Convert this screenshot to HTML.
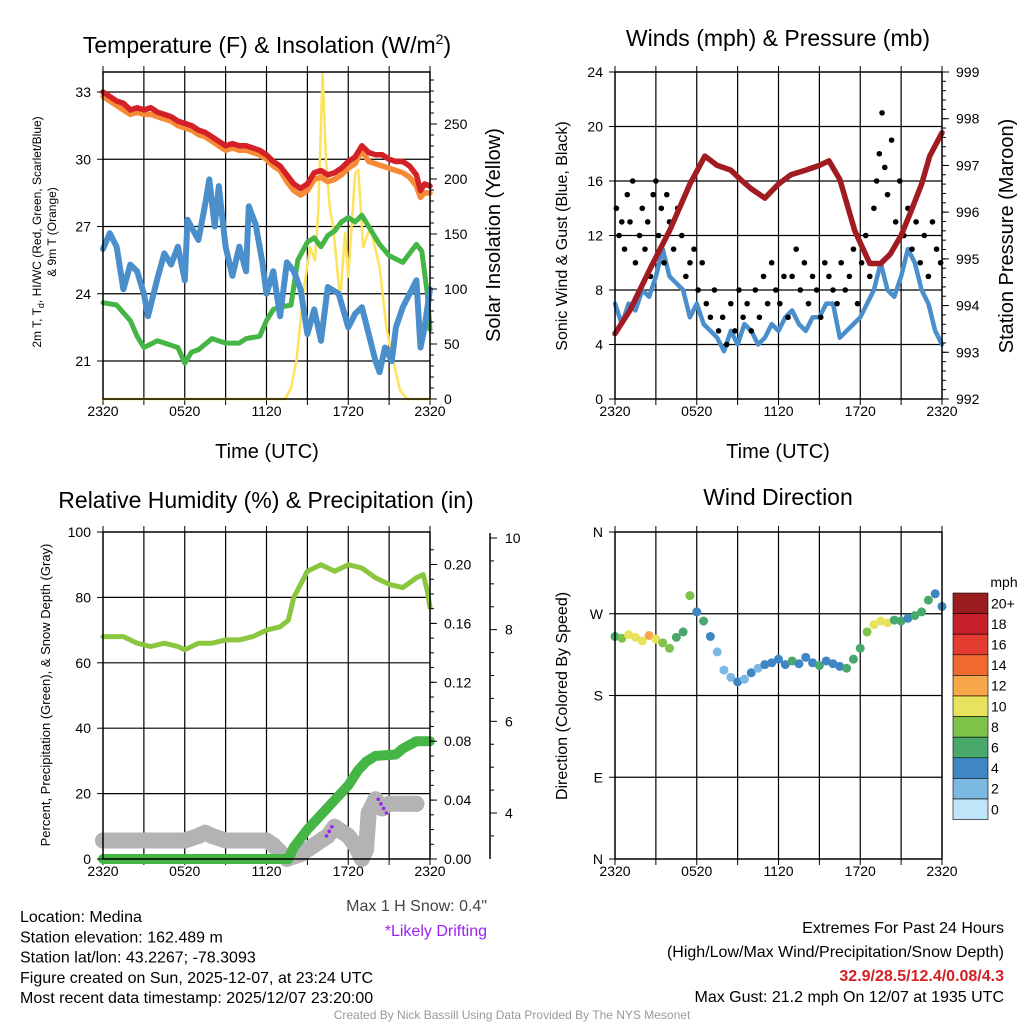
<!DOCTYPE html>
<html><head><meta charset="utf-8"><style>
body{margin:0;background:#fff}
svg{display:block;font-family:"Liberation Sans",Arial,sans-serif}
</style></head><body>
<svg id="s" width="1024" height="1024" viewBox="0 0 1024 1024">
<g id="g"></g>
</svg>
<script>
// ---------- data ----------
const timeTicks = ["2320","0520","1120","1720","2320"];
const redT = [0,0.5,1,1.5,2,2.5,3,3.5,4,4.5,5,5.5,6,6.5,7,7.5,8,8.5,9,9.5,10,10.5,11,11.5,12,12.5,13,13.5,14,14.5,15,15.5,16,16.5,17,17.5,18,18.5,19,19.5,20,20.5,21,21.5,22,22.5,23,23.3,23.6,24];
const redV = [33.0,32.8,32.6,32.5,32.2,32.3,32.2,32.3,32.1,32.0,31.9,31.7,31.6,31.5,31.3,31.2,31.0,30.8,30.6,30.7,30.6,30.6,30.5,30.4,30.2,29.9,29.7,29.3,28.9,28.7,28.9,29.4,29.5,29.3,29.4,29.6,29.9,30.1,30.6,30.3,30.2,30.2,30.0,29.9,29.9,29.7,29.3,28.6,28.9,28.8];
const orangeV = [32.8,32.6,32.4,32.2,32.0,32.1,32.0,32.0,31.9,31.8,31.7,31.5,31.4,31.3,31.1,31.0,30.8,30.6,30.4,30.5,30.4,30.4,30.3,30.2,30.0,29.7,29.5,29.0,28.6,28.4,28.6,29.1,29.2,29.0,29.1,29.3,29.6,29.8,30.4,29.9,29.8,29.7,29.6,29.5,29.4,29.2,28.8,28.3,28.5,28.5];
const greenT = [0,1,2,2.5,3,4,5,5.5,6,6.5,7,8,9,10,10.5,11.5,12,12.5,13,13.8,14.3,15,15.5,16,16.5,17,17.5,18,18.5,19,19.5,20,20.3,21,22,23,23.4,23.8,24];
const greenV = [23.6,23.5,22.8,22.1,21.6,21.9,21.7,21.6,20.9,21.4,21.5,22.0,21.8,21.8,22.0,22.1,22.8,23.3,23.4,23.5,25.5,26.3,26.5,26.1,26.6,26.8,27.2,27.4,27.2,27.5,27.0,26.5,26.2,25.7,25.4,26.2,25.9,24.0,22.4];
const blueT = [0,0.5,1,1.5,2,2.5,3,3.3,4,4.5,5,5.5,6,6.2,7,7.5,7.8,8.2,8.5,9,9.5,10,10.5,10.7,11.2,11.7,12,12.5,13,13.5,14,14.5,15,15.5,16,16.5,17.3,18,18.5,19,19.5,20,20.3,20.7,21.2,21.5,22,22.5,23,23.3,23.6,24];
const blueV = [26.0,26.7,26.1,24.2,25.3,25.0,24.0,23.0,24.7,25.8,25.3,26.1,24.6,27.3,26.4,28.0,29.1,27.0,28.8,26.1,24.8,26.1,25.0,27.9,27.1,25.4,24.0,25.0,23.0,25.4,25.0,24.2,22.2,23.3,21.9,24.3,24.0,22.5,23.1,23.4,22.2,21.0,20.5,21.6,21.0,22.5,23.4,24.0,24.6,21.6,22.5,24.2];
const solarT = [0,13.36,13.8,14.2,14.7,15.2,15.56,15.8,16.12,16.37,16.66,16.9,17.4,17.77,18.0,18.5,18.74,19.1,19.6,19.96,20.3,20.8,21.3,21.8,22.3,24];
const solarV = [0,0,10,35,96,138,126,172,296,217,172,156,90,151,111,205,208,138,156,138,120,65,35,8,0,0];
const presT = [0,1.1,2.6,4,5.5,6.6,7.5,8.5,9.2,10,11,12,12.9,14,15,15.7,16.5,17.6,18.7,19.5,20.2,21,21.7,22.5,23.1,24];
const presV = [993.4,993.9,994.8,995.6,996.6,997.2,997.0,996.9,996.7,996.5,996.3,996.6,996.8,996.9,997.0,997.1,996.7,995.6,994.9,994.9,995.1,995.5,996.0,996.6,997.2,997.7];
const windT = [0,0.5,1,1.5,2,2.5,3,3.5,4,4.5,5,5.5,6,6.5,7,7.5,8,8.5,9,9.5,10,10.5,11,11.5,12,12.5,13,13.5,14,14.5,15,15.5,16,16.5,17,17.5,18,18.5,19,19.5,20,20.5,21,21.5,22,22.5,23,23.5,24];
const windV = [7,5.5,7,6.5,8,7.5,9,11,9,8.5,8,6,7,5.5,5,4.5,3.5,5,4,5.5,5,4,4.5,5.5,5,6,6.5,5.5,5,6,6,7,7,4.5,5,5.5,6,7,8,10,8,7.5,9,11,10,8,7,5,4];
const gustT = [0.1,0.3,0.5,0.7,0.9,1.1,1.3,1.5,1.8,2.0,2.2,2.4,2.6,2.8,3.0,3.2,3.4,3.6,3.8,4.0,4.3,4.6,4.9,5.2,5.5,5.8,6.1,6.4,6.7,7.0,7.3,7.6,7.9,8.2,8.5,8.8,9.1,9.4,9.7,10.0,10.3,10.6,10.9,11.2,11.5,11.8,12.1,12.4,12.7,13.0,13.3,13.6,13.9,14.2,14.5,14.8,15.1,15.4,15.7,16.0,16.3,16.6,16.9,17.2,17.5,17.8,18.1,18.4,18.7,19.0,19.2,19.4,19.6,19.8,20.0,20.3,20.6,20.9,21.2,21.5,21.8,22.1,22.4,22.7,23.0,23.3,23.6,23.9];
const gustV = [14,12,13,11,15,13,16,10,12,14,11,13,9,15,16,12,14,10,15,13,11,14,12,9,10,11,8,10,7,6,8,5,6,4,7,5,8,6,7,5,8,6,9,7,10,8,7,9,6,9,11,8,10,7,9,8,6,10,9,8,7,10,8,9,11,7,10,12,9,14,16,18,21,17,15,19,13,16,12,14,11,13,10,12,9,13,11,10];
const rhT = [0,1.5,2.5,3.5,4.5,5.5,6,7,8,9,10,11,12,13,13.6,14,15,16,17,18,19,20,21,22,23,23.5,23.8,24];
const rhV = [68,68,66,65,66,65,64,66,66,67,67,68,70,71,73,80,88,90,88,90,89,86,84,83,86,87,82,77];
const precT = [0,13.6,14,15,16,17,18,18.7,19.3,20,21.5,22,23,24];
const precV = [0,0,0.008,0.02,0.03,0.04,0.05,0.06,0.066,0.07,0.071,0.075,0.08,0.08];
const snowT = [0,1,2,3,4,5,6,7,7.5,8,9,10,11,12,12.5,13.5,14.5,15.5,16,16.5,17,18,18.5,19,19.3,19.5,20,20.5,21,22,23];
const snowV = [3.4,3.4,3.4,3.4,3.4,3.4,3.4,3.5,3.57,3.5,3.4,3.4,3.4,3.4,3.3,3.0,3.1,3.3,3.4,3.5,3.7,3.5,3.3,3.0,3.2,4.0,4.3,4.1,4.2,4.2,4.2];
const driftT = [16.4,16.6,16.8,20.2,20.4,20.6,20.8];
const driftV = [3.5,3.6,3.7,4.3,4.2,4.1,4.0];
const dirT = [0,0.5,1,1.5,2,2.5,3,3.5,4,4.5,5,5.5,6,6.5,7,7.5,8,8.5,9,9.5,10,10.5,11,11.5,12,12.5,13,13.5,14,14.5,15,15.5,16,16.5,17,17.5,18,18.5,19,19.5,20,20.5,21,21.5,22,22.5,23,23.5,24];
const dirV = [245,243,247,244,240,246,242,238,232,244,250,290,272,262,245,228,208,200,195,198,205,210,214,216,220,214,218,215,222,216,213,218,215,212,210,220,232,250,258,262,260,263,262,265,268,272,285,292,278];
const dirS = [7,8,10,11,10,12,11,9,8,7,7,8,5,6,5,3,3,2,4,3,4,3,4,5,4,5,6,4,5,4,6,5,4,5,7,6,7,8,10,11,10,7,6,5,7,6,7,5,4];
const cbLabels = ["20+","18","16","14","12","10","8","6","4","2","0"];
const cbColors = ["#9b1c1f","#c8202a","#e23b2f","#f06a2e","#f8a84b","#e8e35c","#7ec24a","#49a86c","#3f86c5","#7bb8e2","#bfe5f8"];

// ---------- helpers ----------
const NS="http://www.w3.org/2000/svg";
const G=document.getElementById('g');
function el(tag,attrs,parent){const e=document.createElementNS(NS,tag);for(const k in attrs)e.setAttribute(k,attrs[k]);(parent||G).appendChild(e);return e;}
function txt(x,y,s,size,anchor,extra){const e=el('text',Object.assign({x:x,y:y,'font-size':size,'text-anchor':anchor||'middle',fill:'#000'},extra||{}));e.textContent=s;return e;}
function line(x1,y1,x2,y2,c,w){return el('line',{x1:x1,y1:y1,x2:x2,y2:y2,stroke:c||'#000','stroke-width':w||1});}
function lin(d0,d1,r0,r1){return v=>r0+(v-d0)*(r1-r0)/(d1-d0);}
function path(T,V,xs,ys,color,w,name){let d='';for(let i=0;i<T.length;i++)d+=(i?'L':'M')+xs(T[i]).toFixed(1)+','+ys(V[i]).toFixed(1);const p=el('path',{d:d,fill:'none',stroke:color,'stroke-width':w,'stroke-linejoin':'round','stroke-linecap':'round'});return p;}

function panelFrame(x0,y0,x1,y1,hgrid,name){
  const g=el('g',{});
  const xs=lin(0,24,x0,x1);
  for(let h=3;h<24;h+=3)line(xs(h),y0,xs(h),y1,'#000',1.2);
  hgrid.forEach(y=>line(x0,y,x1,y,'#000',1.2));
  for(let h=0;h<=24;h+=3){line(xs(h),y1,xs(h),y1+6);line(xs(h),y0,xs(h),y0-6);}
  for(let i=0;i<5;i++){const t=txt(xs(i*6),y1+17,timeTicks[i],14);}
  return xs;
}
function border(x0,y0,x1,y1){el('rect',{x:x0,y:y0,width:x1-x0,height:y1-y0,fill:'none',stroke:'#000','stroke-width':1.5});}
function leftAxis(x0,ys,vals,labels){vals.forEach((v,i)=>{const y=ys(v);line(x0-6,y,x0,y);const t=txt(x0-12,y+5,labels[i],14,'end');});}
function rightAxis(x1,ys,vals,labels,minor){vals.forEach((v,i)=>{const y=ys(v);line(x1,y,x1+7,y);const t=txt(x1+14,y+5,labels[i],14,'start');});(minor||[]).forEach(v=>{const y=ys(v);line(x1,y,x1+4,y);});}
function rotText(x,y,s,size,name){const t=txt(0,0,s,size,'middle',{transform:`translate(${x},${y}) rotate(-90)`});return t;}

// ---------- Panel 1 ----------
(function(){
 const x0=103,x1=430,y0=72,y1=399;
 const yT=lin(21,33,361,92), yS=lin(0,250,399,124);
 const xs=panelFrame(x0,y0,x1,y1,[21,24,27,30,33].map(yT),'temperature-panel');
 path(solarT,solarV,xs,yS,'#fde25a',2.5,'solar-insolation-line');
 path(greenT,greenV,xs,yT,'#45b546',5,'dewpoint-line');
 path(blueT,blueV,xs,yT,'#4a8fcb',6,'wind-chill-line');
 path(redT,orangeV,xs,yT,'#f78a36',5.5,'temp-9m-line');
 path(redT,redV,xs,yT,'#d42027',5.5,'temp-2m-line');
 border(x0,y0,x1,y1);
 leftAxis(x0,yT,[21,24,27,30,33],['21','24','27','30','33']);
 const mn=[];for(let v=0;v<=300;v+=10)if(v%50)mn.push(v);
 rightAxis(x1,yS,[0,50,100,150,200,250],['0','50','100','150','200','250'],mn.filter(v=>yS(v)>=y0));
 const t=txt(267,53,'',23);
 t.innerHTML='Temperature (F) &amp; Insolation (W/m<tspan dy="-9" font-size="14">2</tspan><tspan dy="9">)</tspan>';
 const xl=txt(267,458,'Time (UTC)',20);
 const a=txt(0,0,'',12,'middle',{transform:'translate(41,232) rotate(-90)'});
 a.innerHTML='2m T, T<tspan dy="3" font-size="9">d</tspan><tspan dy="-3">, HI/WC (Red, Green, Scarlet/Blue)</tspan>';
 rotText(56,232,'& 9m T (Orange)',12,'temperature-y-title-2');
 rotText(500,235,'Solar Insolation (Yellow)',20,'solar-y-title');
})();

// ---------- Panel 2 ----------
(function(){
 const x0=615,x1=942,y0=72,y1=399;
 const yW=lin(0,24,399,72), yP=lin(992,999,399,72);
 const xs=panelFrame(x0,y0,x1,y1,[4,8,12,16,20].map(yW),'wind-panel');
 path(windT,windV,xs,yW,'#4a8fcb',4.5,'sonic-wind-line');
 for(let i=0;i<gustT.length;i++){const c=el('circle',{cx:xs(gustT[i]),cy:yW(gustV[i]),r:2.8,fill:'#000'});}
 path(presT,presV,xs,yP,'#a01c22',5.5,'pressure-line');
 border(x0,y0,x1,y1);
 leftAxis(x0,yW,[0,4,8,12,16,20,24],['0','4','8','12','16','20','24']);
 const mn=[];for(let v=992;v<=999;v+=0.2)mn.push(v);
 rightAxis(x1,yP,[992,993,994,995,996,997,998,999],['992','993','994','995','996','997','998','999'],mn);
 const t=txt(778,46,'Winds (mph) & Pressure (mb)',23);
 const xl=txt(778,458,'Time (UTC)',20);
 rotText(567,236,'Sonic Wind & Gust (Blue, Black)',16,'wind-y-title');
 rotText(1013,236,'Station Pressure (Maroon)',20,'pressure-y-title');
})();

// ---------- Panel 3 ----------
(function(){
 const x0=103,x1=430,y0=532,y1=859;
 const yR=lin(0,100,859,532), yPr=lin(0,0.2,859,564.5), ySn=lin(4,10,813,538);
 const xs=panelFrame(x0,y0,x1,y1,[20,40,60,80].map(yR),'humidity-panel');
 for(let i=0;i<snowT.length;i++){const c=el('circle',{cx:xs(snowT[i]),cy:ySn(snowV[i]),r:8,fill:'#b3b3b3'});}
 path(snowT,snowV,xs,ySn,'#b3b3b3',16,'snow-depth-line');
 path(precT,precV,xs,yPr,'#45b546',10,'precipitation-line');
 path(rhT,rhV,xs,yR,'#8cc63f',5,'humidity-line');
 for(let i=0;i<driftT.length;i++){const c=el('circle',{cx:xs(driftT[i]),cy:ySn(driftV[i]),r:1.8,fill:'#a020f0'});}
 border(x0,y0,x1,y1);
 leftAxis(x0,yR,[0,20,40,60,80,100],['0','20','40','60','80','100']);
 const mn=[];for(let v=0;v<=0.22;v+=0.01)mn.push(v);
 rightAxis(x1,yPr,[0,0.04,0.08,0.12,0.16,0.2],['0.00','0.04','0.08','0.12','0.16','0.20'],mn);
 line(490,533,490,859,'#000',1.5);
 [4,6,8,10].forEach(v=>{const y=ySn(v);line(490,y,497,y);const t=txt(505,y+5,String(v),14,'start');});
 [3.5,4.5,5,5.5,6.5,7,7.5,8.5,9,9.5].forEach(v=>{const y=ySn(v);line(490,y,494,y);});
 const t=txt(266,508,'Relative Humidity (%) & Precipitation (in)',23);
 rotText(50,695,'Percent, Precipitation (Green), & Snow Depth (Gray)',13,'humidity-y-title');
})();

// ---------- Panel 4 ----------
(function(){
 const x0=615,x1=942,y0=532,y1=859;
 const yD=lin(0,360,859,532);
 const xs=panelFrame(x0,y0,x1,y1,[90,180,270].map(yD),'direction-panel');
 for(let i=0;i<dirT.length;i++){const ci=Math.max(0,Math.min(10,10-Math.floor(dirS[i]/2)));const c=el('circle',{cx:xs(dirT[i]),cy:yD(dirV[i]),r:4.5,fill:cbColors[ci]});}
 border(x0,y0,x1,y1);
 leftAxis(x0,yD,[0,90,180,270,360],['N','E','S','W','N']);
 const t=txt(778,505,'Wind Direction',23);
 rotText(567,696,'Direction (Colored By Speed)',16,'direction-y-title');
 const cb=el('g',{});
 const h=20.6;
 cbColors.forEach((c,i)=>{el('rect',{x:953,y:593+i*h,width:35,height:h,fill:c,stroke:'#000','stroke-width':0.6},cb);txt(991,593+i*h+h/2+5,cbLabels[i],14,'start');});
 txt(1004,587,'mph',14);
})();

// ---------- footer text ----------
const left=['Location: Medina','Station elevation: 162.489 m','Station lat/lon: 43.2267; -78.3093','Figure created on Sun, 2025-12-07, at 23:24 UTC','Most recent data timestamp: 2025/12/07 23:20:00'];
left.forEach((s,i)=>{const t=txt(20,922+i*20.3,s,16,'start');});
let f=txt(487,911,'Max 1 H Snow: 0.4"',16,'end',{fill:'#444'});
f=txt(487,936,'*Likely Drifting',16,'end',{fill:'#a020f0'});
f=txt(1004,933,'Extremes For Past 24 Hours',16,'end');
f=txt(1004,957,'(High/Low/Max Wind/Precipitation/Snow Depth)',16,'end');
f=txt(1004,981,'32.9/28.5/12.4/0.08/4.3',16,'end',{fill:'#d42027','font-weight':'bold'});
f=txt(1004,1002,'Max Gust: 21.2 mph On 12/07 at 1935 UTC',16,'end');
f=txt(512,1019,'Created By Nick Bassill Using Data Provided By The NYS Mesonet',12,'middle',{fill:'#999'});
</script>
</body></html>
